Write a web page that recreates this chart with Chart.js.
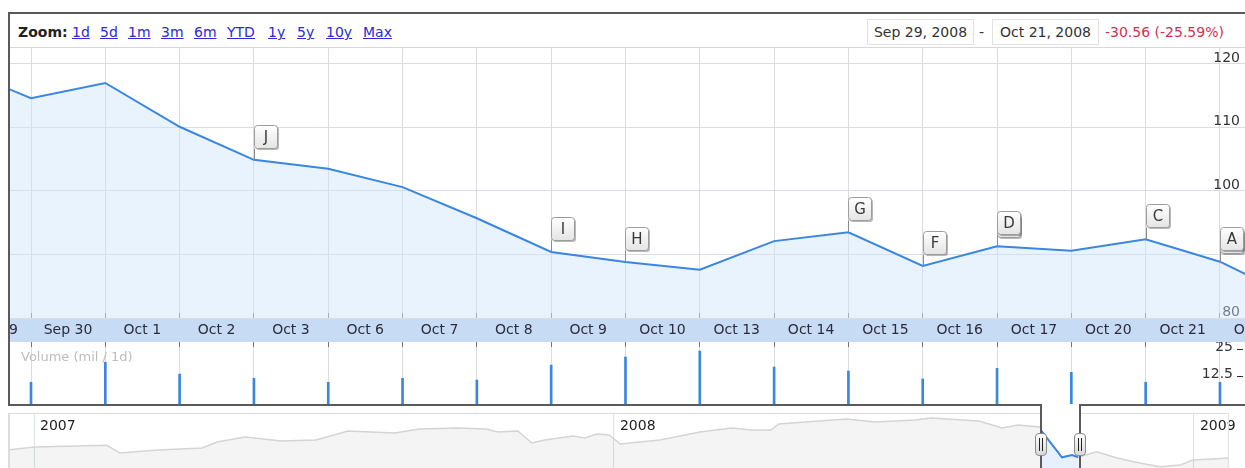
<!DOCTYPE html>
<html><head><meta charset="utf-8">
<script src="https://cdn.jsdelivr.net/npm/chart.js@4.4.1/dist/chart.umd.min.js"></script>
<style>
html,body{margin:0;padding:0;background:#fff;width:1245px;height:468px;overflow:hidden;font-family:"DejaVu Sans",sans-serif;}
.abs{position:absolute;}
canvas{position:absolute;}
.lnk{position:absolute;top:24px;line-height:16px;font-size:14px;color:#2b2bd6;text-decoration:underline;white-space:nowrap;}
.box{position:absolute;top:19px;height:24px;border:1px solid #e2e2e2;font-size:14px;line-height:24px;color:#333;text-align:center;white-space:nowrap;}
.handle{position:absolute;top:433px;width:10px;height:21px;border:1px solid #8a8a8a;border-radius:4px;background:linear-gradient(#ffffff,#d8d8d8);}
.handle div{position:absolute;left:2.5px;top:4px;width:2px;height:13px;border-left:1.5px solid #222;border-right:1.5px solid #222;}
</style>
</head><body>
<div class="abs" id="band" style="left:10px;top:318px;width:1235px;height:24px;background:#c7dbf4;"></div>
<canvas id="main" width="1235" height="294" style="left:10px;top:48px;"></canvas>
<canvas id="vol" width="1235" height="62" style="left:10px;top:342px;"></canvas>
<canvas id="nav" width="1235" height="54" style="left:10px;top:414px;"></canvas>

<div class="abs" style="left:10px;top:47px;width:1235px;height:1px;background:#d8d8d8;"></div>
<div class="abs" style="left:8px;top:12px;width:1237px;height:2px;background:#5a5a5a;"></div>
<div class="abs" style="left:8px;top:12px;width:2px;height:394px;background:#5a5a5a;"></div>
<div class="abs" style="left:8px;top:404px;width:1034px;height:2px;background:#5a5a5a;"></div>
<div class="abs" style="left:1079px;top:404px;width:166px;height:2px;background:#5a5a5a;"></div>
<div class="abs" style="left:1040px;top:404px;width:2px;height:64px;background:#5a5a5a;"></div>
<div class="abs" style="left:1079px;top:404px;width:2px;height:64px;background:#5a5a5a;"></div>
<div class="abs" style="left:8px;top:413px;width:1032px;height:1px;background:#dcdcdc;"></div>
<div class="abs" style="left:1081px;top:413px;width:147px;height:1px;background:#dcdcdc;"></div>
<div class="abs" style="left:8px;top:413px;width:2px;height:55px;background:#dcdcdc;"></div>
<div class="abs" style="left:1228px;top:413px;width:1px;height:55px;background:#e2e2e2;"></div>

<div class="abs" style="left:18px;top:24px;line-height:16px;font-size:14px;font-weight:bold;color:#222;">Zoom:</div>
<span class="lnk" style="left:72px">1d</span>
<span class="lnk" style="left:100px">5d</span>
<span class="lnk" style="left:128px">1m</span>
<span class="lnk" style="left:161px">3m</span>
<span class="lnk" style="left:194px">6m</span>
<span class="lnk" style="left:227px">YTD</span>
<span class="lnk" style="left:268px">1y</span>
<span class="lnk" style="left:297px">5y</span>
<span class="lnk" style="left:326px">10y</span>
<span class="lnk" style="left:363px">Max</span>

<div class="box" style="left:867px;width:105px;">Sep 29, 2008</div>
<div class="abs" style="left:979px;top:24px;line-height:16px;font-size:14px;color:#333;">-</div>
<div class="box" style="left:992px;width:105px;">Oct 21, 2008</div>
<div class="abs" style="left:1105px;top:24px;line-height:16px;font-size:14px;color:#d0314f;white-space:nowrap;">-30.56 (-25.59%)</div>

<div class="abs" style="left:21px;top:349px;line-height:16px;font-size:13px;color:#bdbdbd;white-space:nowrap;">Volume (mil / 1d)</div>

<div class="handle" style="left:1035px;"><div></div></div>
<div class="handle" style="left:1074px;"><div></div></div>

<script>
// ---- main price chart data (trading-day index; grid line i = close of day) ----
const dayIdx = [-1, 0, 1, 2, 3, 4, 5, 6, 7, 8, 9, 10, 11, 12, 13, 14, 15, 16, 17];
const closes = [119.42, 114.6, 117.0, 110.1, 104.9, 103.5, 100.6, 95.7, 90.4, 88.8, 87.6, 92.1, 93.5, 88.2, 91.3, 90.6, 92.4, 88.86, 83.2];
// band labels (tick i labels the day that follows grid line i)
const labelTickVals = [-1, 0, 1, 2, 3, 4, 5, 6, 7, 8, 9, 10, 11, 12, 13, 14, 15, 16];
const dayLabels = ['Sep 29','Sep 30','Oct 1','Oct 2','Oct 3','Oct 6','Oct 7','Oct 8','Oct 9','Oct 10','Oct 13','Oct 14','Oct 15','Oct 16','Oct 17','Oct 20','Oct 21','Oct 22'];
const priceTicks = [80, 90, 100, 110, 120];

// ---- volume ----
const volIdx = [0, 1, 2, 3, 4, 5, 6, 7, 8, 9, 10, 11, 12, 13, 14, 15, 16];
const volumes = [9.9, 19.0, 13.6, 11.7, 9.9, 11.7, 10.9, 17.7, 21.4, 24.1, 16.8, 15.0, 11.4, 16.2, 14.4, 9.9, 9.9];
const volTicks = [12.5, 25];

// ---- event flags ----
const flagLetters = ['J', 'I', 'H', 'G', 'F', 'D', 'C', 'A'];
const flagDays = [3, 7, 8, 11, 12, 13, 15, 16];
const flagStacked = [false, false, false, false, false, true, false, true];

// ---- navigator (months since Jan 2007) ----
const navMonths = [-0.54, 0, 1.51, 1.78, 2.57, 3.48, 3.79, 4.37, 5.11, 5.83, 6.50, 7.47, 7.97, 8.77, 9.35, 9.60, 10.01, 10.30, 10.57, 11.15, 11.40, 11.65, 11.90, 12.13, 12.95, 13.78, 14.44, 14.84, 15.25, 15.41, 16.24, 16.82, 17.40, 18.23, 18.56, 19.55, 20.03, 20.36, 20.82, 20.84, 21.27, 21.48, 21.60, 21.99, 22.41, 22.88, 23.30, 23.71, 23.98, 24.39, 24.71];
const navPrices = [96.8, 100, 102, 93.4, 96.8, 99, 105.7, 111.2, 106.8, 107.9, 117.9, 115.7, 120.1, 121.2, 120.1, 116.8, 117.9, 104.6, 107.9, 112.3, 110.1, 114.6, 113.5, 103.5, 107.9, 116.8, 121.2, 119, 119, 125.7, 129, 131.2, 127.9, 130.1, 132.3, 129, 121.2, 124.6, 122.3, 118.2, 88.7, 91.2, 88.7, 94.9, 87.9, 82.4, 78.3, 80, 85.7, 86.8, 87.9];
const selMonths = [20.84, 21.27, 21.48, 21.60];
const selPrices = [118.2, 88.7, 91.2, 88.7];
const yearTickVals = [0, 12, 24];
const yearLabels = ['2007', '2008', '2009'];

const FONT = 'DejaVu Sans';
const DAY_PX = 74.31;
const X0 = (10 - 31) / DAY_PX;

const flagPlugin = {
  id: 'flags',
  afterDatasetsDraw(chart) {
    const meta = chart.getDatasetMeta(0);
    const ctx = chart.ctx;
    ctx.save();
    flagDays.forEach((d, k) => {
      const pt = meta.data[dayIdx.indexOf(d)];
      const x = Math.round(pt.x) + 0.5;
      const y = pt.y;
      const w = 23, h = 23;
      const bottom = Math.round(y - 12) + 0.5;
      const top = bottom - h;
      const drawBox = (bx, by) => {
        ctx.fillStyle = 'rgba(0,0,0,0.28)';
        ctx.beginPath(); ctx.roundRect(bx + 1.5, by + 1.5, w, h, 3); ctx.fill();
        const g = ctx.createLinearGradient(0, by, 0, by + h);
        g.addColorStop(0, '#ffffff'); g.addColorStop(1, '#e4e4e4');
        ctx.fillStyle = g;
        ctx.strokeStyle = '#9c9c9c'; ctx.lineWidth = 1;
        ctx.beginPath(); ctx.roundRect(bx, by, w, h, 3); ctx.fill(); ctx.stroke();
      };
      ctx.strokeStyle = '#8a8a8a'; ctx.lineWidth = 1;
      ctx.beginPath(); ctx.moveTo(x, bottom); ctx.lineTo(x, y); ctx.stroke();
      if (flagStacked[k]) drawBox(x, top + 3);
      drawBox(x, top);
      ctx.fillStyle = '#3a3a3a';
      ctx.font = '15px "' + FONT + '"';
      ctx.textAlign = 'center'; ctx.textBaseline = 'middle';
      ctx.fillText(flagLetters[k], x + w / 2, top + h / 2 + 1);
    });
    ctx.restore();
  }
};

new Chart(document.getElementById('main'), {
  type: 'line',
  data: { datasets: [{
    data: closes.map((v, i) => ({ x: dayIdx[i], y: v })),
    borderColor: '#3a86e0', borderWidth: 2,
    backgroundColor: 'rgba(202,227,252,0.42)', fill: 'start',
    pointRadius: 0, tension: 0
  }] },
  options: {
    responsive: false, animation: false, devicePixelRatio: 1,
    layout: { padding: 0 },
    plugins: { legend: { display: false }, tooltip: { enabled: false } },
    scales: {
      x: {
        type: 'linear', position: 'bottom', min: X0, max: X0 + 1235 / DAY_PX,
        afterBuildTicks: s => { s.ticks = labelTickVals.map(v => ({ value: v })); },
        afterFit: s => { s.height = 24; s.paddingLeft = 0; s.paddingRight = 0; },
        grid: { color: '#dcdcdc', lineWidth: 1, drawTicks: true, tickLength: -5, tickColor: '#8c8c8c' },
        border: { display: false },
        ticks: { autoSkip: false, maxRotation: 0, minRotation: 0, labelOffset: 37, padding: 8.6,
          color: '#2b2b3b', font: { family: FONT, size: 14 }, callback: (v, i) => dayLabels[i] }
      },
      y: {
        type: 'linear', position: 'right', min: 80, max: 122.5,
        afterBuildTicks: s => { s.ticks = priceTicks.map(v => ({ value: v })); },
        afterFit: s => { s.width = 0; s.paddingTop = 0; s.paddingBottom = 0; },
        grid: { color: '#dcdce6', drawTicks: false },
        border: { display: false },
        ticks: { mirror: true, padding: -5, labelOffset: -6, color: '#333', font: { family: FONT, size: 14 } }
      }
    }
  },
  plugins: [flagPlugin]
});

new Chart(document.getElementById('vol'), {
  type: 'bar',
  data: { datasets: [{
    data: volumes.map((v, i) => ({ x: volIdx[i], y: v })),
    backgroundColor: '#3a86e0', borderWidth: 0, barThickness: 2
  }] },
  options: {
    responsive: false, animation: false, devicePixelRatio: 1,
    layout: { padding: 0 },
    plugins: { legend: { display: false }, tooltip: { enabled: false } },
    scales: {
      x: {
        type: 'linear', position: 'top', offset: false, min: X0, max: X0 + 1227 / DAY_PX,
        afterBuildTicks: s => { s.ticks = volIdx.map(v => ({ value: v })); },
        afterFit: s => { s.height = 0; s.paddingLeft = 0; s.paddingRight = 0; },
        grid: { offset: false, color: '#dcdcdc', drawTicks: true, tickLength: -5, tickColor: '#777' },
        border: { display: false },
        ticks: { display: false }
      },
      y: {
        type: 'linear', position: 'right', min: 0, max: 28.2,
        afterBuildTicks: s => { s.ticks = volTicks.map(v => ({ value: v })); },
        afterFit: s => { s.width = 8; s.paddingTop = 0; s.paddingBottom = 0; },
        grid: { drawOnChartArea: false, drawTicks: true, tickLength: 6, tickColor: '#333' },
        border: { display: false },
        ticks: { mirror: true, padding: -4, labelOffset: -2, color: '#333', font: { family: FONT, size: 14 } }
      }
    }
  }
});

const NAV_PX = 48.33;
new Chart(document.getElementById('nav'), {
  type: 'line',
  data: { datasets: [
    { data: selMonths.map((m, i) => ({ x: m, y: selPrices[i] })),
      borderColor: '#3a86e0', borderWidth: 2, backgroundColor: '#e6f1fd', fill: 'start', pointRadius: 0, tension: 0 },
    { data: navMonths.map((m, i) => ({ x: m, y: navPrices[i] })),
      borderColor: '#d4d4d4', borderWidth: 1.5, backgroundColor: 'rgba(0,0,0,0.045)', fill: 'start', pointRadius: 0, tension: 0 }
  ] },
  options: {
    responsive: false, animation: false, devicePixelRatio: 1,
    layout: { padding: 0 },
    plugins: { legend: { display: false }, tooltip: { enabled: false } },
    scales: {
      x: {
        type: 'linear', position: 'top', min: (10 - 34) / NAV_PX, max: (1245 - 34) / NAV_PX,
        afterBuildTicks: s => { s.ticks = yearTickVals.map(v => ({ value: v })); },
        afterFit: s => { s.height = 0; s.paddingLeft = 0; s.paddingRight = 0; },
        grid: { color: '#dbe4db', drawTicks: false },
        border: { display: false },
        ticks: { mirror: true, autoSkip: false, maxRotation: 0, minRotation: 0, align: 'start', labelOffset: 6, padding: 4.4,
          color: '#222', font: { family: FONT, size: 14 }, callback: (v, i) => yearLabels[i] }
      },
      y: { display: false, min: 76.8, max: 136.8 }
    }
  }
});
</script>
</body></html>
